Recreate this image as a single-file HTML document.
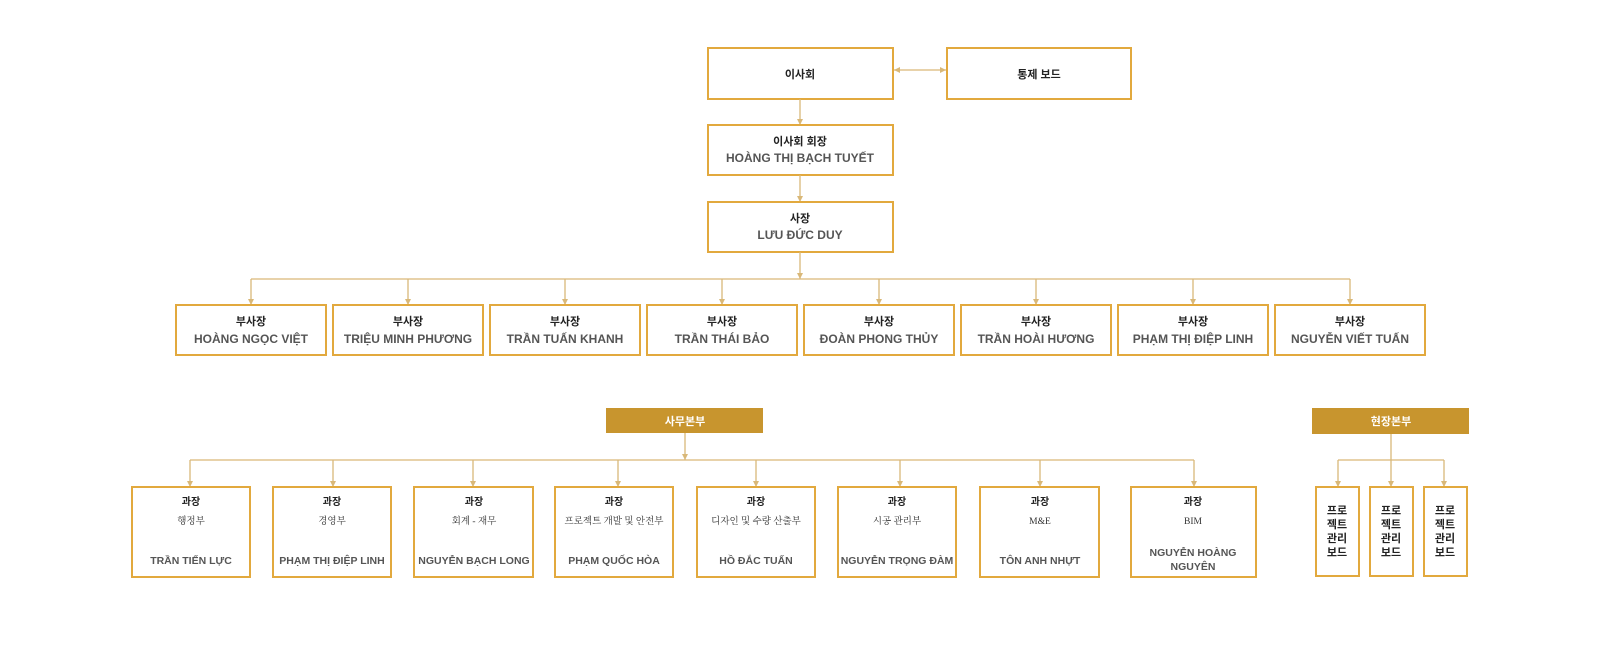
<!DOCTYPE html>
<html><head><meta charset="utf-8"><style>
html,body{margin:0;padding:0;background:#fff;}
svg{display:block;}
text{font-family:"Liberation Sans","Noto Sans CJK KR",sans-serif;text-anchor:middle;}
.k{font-weight:bold;font-size:11px;fill:#222;}
.n{font-weight:bold;font-size:12px;fill:#555;}
.d{font-size:9.5px;fill:#333;font-family:"Liberation Serif","Noto Serif CJK SC",serif;}
.nb{font-weight:bold;font-size:10.5px;fill:#555;}
.b{fill:#fff;stroke:#e2a93e;stroke-width:2;}
.l{stroke:#d9b878;stroke-width:1.3;fill:none;}
</style></head><body>
<svg width="1600" height="662" viewBox="0 0 1600 662" xmlns="http://www.w3.org/2000/svg">
<defs><marker id="a" markerWidth="8" markerHeight="8" refX="6" refY="3" orient="auto" markerUnits="userSpaceOnUse"><path d="M0,0 L6,3 L0,6z" fill="#d9b878"/></marker>
<marker id="s" markerWidth="8" markerHeight="8" refX="6" refY="3" orient="auto-start-reverse" markerUnits="userSpaceOnUse"><path d="M0,0 L6,3 L0,6z" fill="#d9b878"/></marker></defs>

<rect class="b" x="708" y="48" width="185" height="51"/><text class="k" x="800" y="78">이사회</text>
<rect class="b" x="947" y="48" width="184" height="51"/><text class="k" x="1039" y="78">통제 보드</text>
<line class="l" x1="894" y1="70" x2="946" y2="70" marker-start="url(#s)" marker-end="url(#s)"/>
<line class="l" x1="800" y1="99" x2="800" y2="125" marker-end="url(#a)"/>
<rect class="b" x="708" y="125" width="185" height="50"/><text class="k" x="800" y="145">이사회 회장</text><text class="n" x="800" y="162">HOÀNG THỊ BẠCH TUYẾT</text>
<line class="l" x1="800" y1="175" x2="800" y2="202" marker-end="url(#a)"/>
<rect class="b" x="708" y="202" width="185" height="50"/><text class="k" x="800" y="222">사장</text><text class="n" x="800" y="239">LƯU ĐỨC DUY</text>
<line class="l" x1="800" y1="252" x2="800" y2="279" marker-end="url(#a)"/>
<line class="l" x1="251" y1="279" x2="1350" y2="279"/>

<g>
<line class="l" x1="251" y1="279" x2="251" y2="305" marker-end="url(#a)"/><rect class="b" x="176" y="305" width="150" height="50"/><text class="k" x="251" y="325">부사장</text><text class="n" x="251" y="343">HOÀNG NGỌC VIỆT</text>
<line class="l" x1="408" y1="279" x2="408" y2="305" marker-end="url(#a)"/><rect class="b" x="333" y="305" width="150" height="50"/><text class="k" x="408" y="325">부사장</text><text class="n" x="408" y="343">TRIỆU MINH PHƯƠNG</text>
<line class="l" x1="565" y1="279" x2="565" y2="305" marker-end="url(#a)"/><rect class="b" x="490" y="305" width="150" height="50"/><text class="k" x="565" y="325">부사장</text><text class="n" x="565" y="343">TRẦN TUẤN KHANH</text>
<line class="l" x1="722" y1="279" x2="722" y2="305" marker-end="url(#a)"/><rect class="b" x="647" y="305" width="150" height="50"/><text class="k" x="722" y="325">부사장</text><text class="n" x="722" y="343">TRẦN THÁI BẢO</text>
<line class="l" x1="879" y1="279" x2="879" y2="305" marker-end="url(#a)"/><rect class="b" x="804" y="305" width="150" height="50"/><text class="k" x="879" y="325">부사장</text><text class="n" x="879" y="343">ĐOÀN PHONG THỦY</text>
<line class="l" x1="1036" y1="279" x2="1036" y2="305" marker-end="url(#a)"/><rect class="b" x="961" y="305" width="150" height="50"/><text class="k" x="1036" y="325">부사장</text><text class="n" x="1036" y="343">TRẦN HOÀI HƯƠNG</text>
<line class="l" x1="1193" y1="279" x2="1193" y2="305" marker-end="url(#a)"/><rect class="b" x="1118" y="305" width="150" height="50"/><text class="k" x="1193" y="325">부사장</text><text class="n" x="1193" y="343">PHẠM THỊ ĐIỆP LINH</text>
<line class="l" x1="1350" y1="279" x2="1350" y2="305" marker-end="url(#a)"/><rect class="b" x="1275" y="305" width="150" height="50"/><text class="k" x="1350" y="325">부사장</text><text class="n" x="1350" y="343">NGUYỄN VIẾT TUẤN</text>
</g>

<rect x="606" y="408" width="157" height="25" fill="#c8952e"/><text x="685" y="425" style="font-size:11px;fill:#fff;font-weight:bold">사무본부</text>
<line class="l" x1="685" y1="433" x2="685" y2="460" marker-end="url(#a)"/>
<line class="l" x1="190" y1="460" x2="1194" y2="460"/>
<g>
<line class="l" x1="190" y1="460" x2="190" y2="487" marker-end="url(#a)"/><rect class="b" x="132" y="487" width="118" height="90"/><text class="k" x="191" y="505" style="font-size:10px">과장</text><text class="d" x="191" y="524">행정부</text><text class="nb" x="191" y="564">TRẦN TIẾN LỰC</text>
<line class="l" x1="333" y1="460" x2="333" y2="487" marker-end="url(#a)"/><rect class="b" x="273" y="487" width="118" height="90"/><text class="k" x="332" y="505" style="font-size:10px">과장</text><text class="d" x="332" y="524">경영부</text><text class="nb" x="332" y="564">PHẠM THỊ ĐIỆP LINH</text>
<line class="l" x1="473" y1="460" x2="473" y2="487" marker-end="url(#a)"/><rect class="b" x="414" y="487" width="119" height="90"/><text class="k" x="474" y="505" style="font-size:10px">과장</text><text class="d" x="474" y="524">회계 - 재무</text><text class="nb" x="474" y="564">NGUYỄN BẠCH LONG</text>
<line class="l" x1="618" y1="460" x2="618" y2="487" marker-end="url(#a)"/><rect class="b" x="555" y="487" width="118" height="90"/><text class="k" x="614" y="505" style="font-size:10px">과장</text><text class="d" x="614" y="524">프로젝트 개발 및 안전부</text><text class="nb" x="614" y="564">PHẠM QUỐC HÒA</text>
<line class="l" x1="756" y1="460" x2="756" y2="487" marker-end="url(#a)"/><rect class="b" x="697" y="487" width="118" height="90"/><text class="k" x="756" y="505" style="font-size:10px">과장</text><text class="d" x="756" y="524">디자인 및 수량 산출부</text><text class="nb" x="756" y="564">HỒ ĐẮC TUẤN</text>
<line class="l" x1="900" y1="460" x2="900" y2="487" marker-end="url(#a)"/><rect class="b" x="838" y="487" width="118" height="90"/><text class="k" x="897" y="505" style="font-size:10px">과장</text><text class="d" x="897" y="524">시공 관리부</text><text class="nb" x="897" y="564">NGUYỄN TRỌNG ĐÀM</text>
<line class="l" x1="1040" y1="460" x2="1040" y2="487" marker-end="url(#a)"/><rect class="b" x="980" y="487" width="119" height="90"/><text class="k" x="1040" y="505" style="font-size:10px">과장</text><text class="d" x="1040" y="524">M&amp;E</text><text class="nb" x="1040" y="564">TÔN ANH NHỰT</text>
<line class="l" x1="1194" y1="460" x2="1194" y2="487" marker-end="url(#a)"/><rect class="b" x="1131" y="487" width="125" height="90"/><text class="k" x="1193" y="505" style="font-size:10px">과장</text><text class="d" x="1193" y="524">BIM</text><text class="nb" x="1193" y="556">NGUYỄN HOÀNG</text><text class="nb" x="1193" y="570">NGUYÊN</text>
</g>

<rect x="1312" y="408" width="157" height="26" fill="#c8952e"/><text x="1391" y="425" style="font-size:11px;fill:#fff;font-weight:bold">현장본부</text>
<line class="l" x1="1391" y1="434" x2="1391" y2="487" marker-end="url(#a)"/>
<line class="l" x1="1338" y1="460" x2="1444" y2="460"/>
<line class="l" x1="1338" y1="460" x2="1338" y2="487" marker-end="url(#a)"/>
<line class="l" x1="1444" y1="460" x2="1444" y2="487" marker-end="url(#a)"/>
<g>
<rect class="b" x="1316" y="487" width="43" height="89"/>
<text class="k" x="1337" y="514">프로</text><text class="k" x="1337" y="528">젝트</text><text class="k" x="1337" y="542">관리</text><text class="k" x="1337" y="556">보드</text>
<rect class="b" x="1370" y="487" width="43" height="89"/>
<text class="k" x="1391" y="514">프로</text><text class="k" x="1391" y="528">젝트</text><text class="k" x="1391" y="542">관리</text><text class="k" x="1391" y="556">보드</text>
<rect class="b" x="1424" y="487" width="43" height="89"/>
<text class="k" x="1445" y="514">프로</text><text class="k" x="1445" y="528">젝트</text><text class="k" x="1445" y="542">관리</text><text class="k" x="1445" y="556">보드</text>
</g>
</svg>
</body></html>
